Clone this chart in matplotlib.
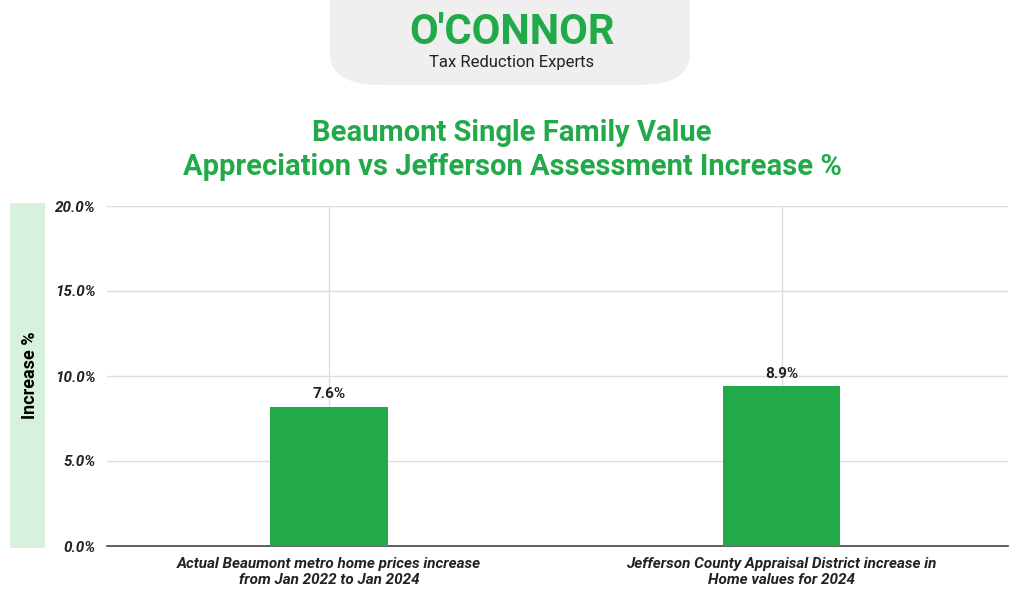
import matplotlib
matplotlib.use("Agg")
import matplotlib.pyplot as plt
from matplotlib.patches import FancyBboxPatch, Rectangle

categories = ["Actual Beaumont metro home prices increase\nfrom Jan 2022 to Jan 2024",
              "Jefferson County Appraisal District increase in\nHome values for 2024"]
bar_heights = [8.2, 9.4]
bar_labels = ["7.6%", "8.9%"]
yticks = [0, 5, 10, 15, 20]
ytick_labels = ["0.0%", "5.0%", "10.0%", "15.0%", "20.0%"]

GREEN = "#22a94a"
W, H = 1024, 615
fig = plt.figure(figsize=(W/100, H/100), dpi=100)
fig.patch.set_facecolor("white")

# header shape
fig.patches.append(FancyBboxPatch((330/W, (H-85)/H), 360/W, 120/H, boxstyle="round,pad=0,rounding_size=0.05",
                                  transform=fig.transFigure, fc="#efefef", ec="none", zorder=0))
fig.text(512/W, 1-33/H, "O'CONNOR", ha="center", va="center", fontsize=30, fontweight="bold",
         color=GREEN, family="Roboto")
fig.text(512/W, 1-62/H, "Tax Reduction Experts", ha="center", va="center", fontsize=12,
         color="#222222", family="Roboto")

fig.text(512/W, 1-150/H, "Beaumont Single Family Value\nAppreciation vs Jefferson Assessment Increase %",
         ha="center", va="center", fontsize=21, fontweight="bold", color=GREEN, family="Roboto",
         linespacing=1.3)

# left band
fig.patches.append(Rectangle((10/W, (H-548)/H), 35/W, 345/H, transform=fig.transFigure,
                             fc="#d8f1de", ec="none"))
fig.text(30/W, 1-375/H, "Increase %", rotation=90, ha="center", va="center", fontsize=13,
         fontweight="bold", color="black", family="Roboto")

ax = fig.add_axes([107/W, (H-546)/H, 901/W, 340/H])
x = list(range(len(categories)))
bars = ax.bar(x, bar_heights, width=0.26, color=GREEN, zorder=3)
for xi, h, lab in zip(x, bar_heights, bar_labels):
    ax.text(xi, h + 0.3, lab, ha="center", va="bottom", fontsize=11, fontweight="bold",
            color="#222222", family="Roboto")
ax.set_xlim(-0.49, 1.5)
ax.set_ylim(0, 20)
ax.set_yticks(yticks)
ax.set_yticklabels(ytick_labels, fontsize=11, fontweight="bold", fontstyle="italic",
                   color="#222222", family="Roboto")
ax.set_xticks(x)
ax.set_xticklabels(categories, fontsize=11, fontweight="bold", fontstyle="italic",
                   color="#222222", family="Roboto")
ax.grid(True, color="#dddddd", linewidth=1, zorder=0)
ax.tick_params(length=0, pad=8)
for s in ["top", "right", "left"]:
    ax.spines[s].set_visible(False)
ax.spines["bottom"].set_color("#444444")
ax.spines["bottom"].set_linewidth(1.2)

fig.savefig("out.png", dpi=100)
